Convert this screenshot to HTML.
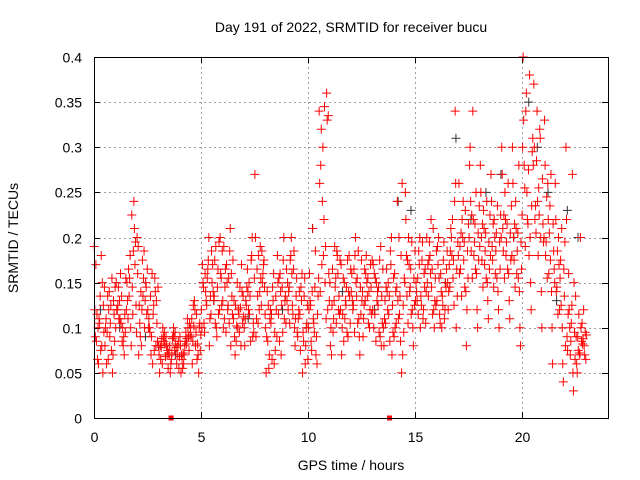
<!DOCTYPE html>
<html><head><meta charset="utf-8"><style>
body{margin:0;background:#fff}
svg{display:block;font-family:"Liberation Sans",sans-serif}
</style></head><body>
<svg id="chart" width="640" height="480" viewBox="0 0 640 480" xmlns="http://www.w3.org/2000/svg">
<text x="351" y="32" font-size="14" text-anchor="middle">Day 191 of 2022, SRMTID for receiver bucu</text>
<text transform="translate(18,238) rotate(-90)" font-size="14" text-anchor="middle">SRMTID / TECUs</text>
<text x="351" y="470" font-size="14" text-anchor="middle">GPS time / hours</text>
<g id="grid"></g>
<g id="ticks"></g>
<g id="marks"></g>
<rect x="94.5" y="57.5" width="514" height="361" fill="none" stroke="#000" stroke-width="1"/>
</svg>
<script>
const xTicks=[0,5,10,15,20];
const yTicks=[0,0.05,0.1,0.15,0.2,0.25,0.3,0.35,0.4];
const yTickLabels=["0","0.05","0.1","0.15","0.2","0.25","0.3","0.35","0.4"];
const binStart=0, binWidth=0.5;
const redBins=[
[0.19,0.1,0.08,0.12,0.06,0.15,0.09,0.11,0.05,0.17,0.105,0.125,0.085,0.135,0.095,0.115,0.075,0.145,0.065,0.18],
[0.08,0.12,0.05,0.1,0.14,0.07,0.11,0.09,0.13,0.06,0.105,0.115,0.095,0.125,0.085,0.135,0.075,0.145,0.065,0.155],
[0.1,0.13,0.08,0.15,0.11,0.09,0.12,0.16,0.07,0.12,0.105,0.115,0.125,0.135,0.095,0.145,0.085,0.155,0.11,0.1],
[0.12,0.18,0.24,0.15,0.1,0.21,0.13,0.08,0.17,0.11,0.225,0.195,0.165,0.145,0.125,0.135,0.115,0.095,0.155,0.185],
[0.2,0.14,0.1,0.16,0.08,0.13,0.19,0.12,0.15,0.07,0.175,0.145,0.125,0.135,0.115,0.105,0.155,0.165,0.09,0.185],
[0.12,0.09,0.14,0.1,0.16,0.08,0.11,0.06,0.13,0.1,0.115,0.105,0.095,0.125,0.085,0.135,0.075,0.145,0.07,0.155],
[0.08,0.06,0.09,0.07,0.1,0.08,0.05,0.09,0.07,0.08,0.085,0.075,0.065,0.095,0.055,0.078,0.082,0.072,0.088,0.068],
[0.07,0.09,0.06,0.08,0.1,0.07,0.05,0.09,0.08,0.06,0.075,0.085,0.065,0.095,0.055,0.072,0.082,0.068,0.088,0.078],
[0.09,0.06,0.11,0.08,0.07,0.1,0.05,0.08,0.09,0.07,0.085,0.075,0.065,0.095,0.105,0.055,0.082,0.092,0.072,0.088],
[0.1,0.13,0.07,0.09,0.12,0.05,0.11,0.08,0.1,0.06,0.095,0.105,0.085,0.115,0.075,0.125,0.065,0.092,0.102,0.082],
[0.12,0.16,0.2,0.1,0.14,0.08,0.17,0.13,0.11,0.15,0.125,0.135,0.145,0.155,0.115,0.105,0.165,0.185,0.095,0.175],
[0.15,0.19,0.12,0.17,0.1,0.2,0.14,0.09,0.16,0.13,0.145,0.155,0.135,0.165,0.125,0.175,0.115,0.185,0.105,0.195],
[0.13,0.17,0.21,0.1,0.15,0.08,0.19,0.12,0.16,0.11,0.125,0.135,0.145,0.155,0.115,0.165,0.105,0.175,0.095,0.185],
[0.11,0.15,0.08,0.13,0.1,0.17,0.09,0.12,0.14,0.07,0.115,0.105,0.125,0.095,0.135,0.085,0.145,0.112,0.102,0.122],
[0.1,0.14,0.18,0.08,0.12,0.2,0.11,0.15,0.09,0.13,0.115,0.105,0.125,0.135,0.095,0.145,0.085,0.155,0.165,0.175],
[0.27,0.18,0.15,0.2,0.12,0.16,0.09,0.14,0.17,0.11,0.19,0.175,0.165,0.155,0.145,0.135,0.125,0.115,0.105,0.185],
[0.1,0.07,0.13,0.05,0.11,0.16,0.09,0.12,0.06,0.14,0.105,0.095,0.085,0.115,0.075,0.125,0.065,0.135,0.055,0.145],
[0.12,0.16,0.2,0.09,0.14,0.11,0.18,0.07,0.13,0.15,0.125,0.135,0.115,0.145,0.105,0.155,0.095,0.165,0.085,0.175],
[0.13,0.18,0.1,0.15,0.2,0.08,0.12,0.16,0.11,0.14,0.125,0.135,0.145,0.115,0.155,0.105,0.165,0.095,0.175,0.185],
[0.09,0.13,0.06,0.11,0.16,0.08,0.12,0.05,0.1,0.14,0.095,0.105,0.115,0.085,0.125,0.075,0.135,0.065,0.145,0.155],
[0.1,0.14,0.07,0.12,0.21,0.09,0.16,0.11,0.06,0.13,0.105,0.115,0.125,0.095,0.135,0.085,0.145,0.155,0.075,0.185],
[0.34,0.3,0.36,0.26,0.18,0.33,0.14,0.22,0.12,0.28,0.345,0.335,0.32,0.15,0.16,0.17,0.19,0.13,0.24,0.11],
[0.15,0.11,0.18,0.08,0.13,0.16,0.1,0.19,0.12,0.07,0.145,0.135,0.125,0.155,0.115,0.165,0.105,0.175,0.095,0.185],
[0.12,0.15,0.09,0.17,0.11,0.14,0.07,0.13,0.18,0.1,0.125,0.135,0.115,0.145,0.105,0.155,0.095,0.165,0.085,0.175],
[0.14,0.18,0.11,0.16,0.2,0.09,0.13,0.15,0.07,0.12,0.135,0.145,0.125,0.155,0.115,0.165,0.105,0.175,0.095,0.185],
[0.13,0.16,0.1,0.14,0.18,0.12,0.09,0.15,0.17,0.11,0.135,0.145,0.125,0.155,0.115,0.165,0.105,0.175,0.13,0.14],
[0.12,0.15,0.09,0.17,0.13,0.19,0.1,0.14,0.08,0.16,0.125,0.135,0.115,0.145,0.105,0.155,0.095,0.165,0.085,0.175],
[0.1,0.14,0.17,0.08,0.12,0.2,0.11,0.15,0.07,0.13,0.115,0.125,0.105,0.135,0.095,0.145,0.085,0.155,0.165,0.185],
[0.09,0.13,0.05,0.16,0.11,0.26,0.1,0.2,0.07,0.14,0.115,0.125,0.105,0.135,0.095,0.145,0.085,0.155,0.24,0.18],
[0.15,0.2,0.12,0.25,0.17,0.1,0.22,0.14,0.08,0.18,0.145,0.155,0.135,0.165,0.125,0.175,0.115,0.185,0.105,0.195],
[0.13,0.17,0.11,0.15,0.2,0.12,0.14,0.1,0.16,0.13,0.135,0.145,0.155,0.125,0.165,0.115,0.175,0.105,0.185,0.195],
[0.14,0.18,0.12,0.2,0.16,0.1,0.15,0.22,0.13,0.17,0.145,0.155,0.135,0.165,0.125,0.175,0.115,0.185,0.195,0.21],
[0.13,0.16,0.11,0.19,0.14,0.12,0.17,0.1,0.15,0.2,0.135,0.145,0.155,0.125,0.165,0.115,0.175,0.185,0.105,0.195],
[0.15,0.2,0.34,0.12,0.18,0.26,0.14,0.22,0.1,0.17,0.155,0.165,0.145,0.175,0.135,0.185,0.125,0.195,0.21,0.24],
[0.18,0.22,0.14,0.26,0.2,0.08,0.16,0.24,0.12,0.19,0.175,0.185,0.165,0.195,0.155,0.205,0.145,0.215,0.135,0.23],
[0.2,0.34,0.16,0.28,0.22,0.12,0.3,0.18,0.1,0.24,0.195,0.205,0.185,0.215,0.175,0.225,0.165,0.235,0.155,0.25],
[0.19,0.23,0.15,0.28,0.21,0.13,0.25,0.17,0.11,0.2,0.185,0.195,0.175,0.205,0.165,0.215,0.155,0.225,0.145,0.24],
[0.18,0.22,0.14,0.27,0.2,0.12,0.24,0.16,0.1,0.19,0.185,0.195,0.175,0.205,0.165,0.215,0.155,0.225,0.145,0.235],
[0.2,0.25,0.16,0.3,0.22,0.13,0.27,0.18,0.11,0.21,0.195,0.205,0.185,0.215,0.175,0.225,0.165,0.235,0.155,0.26],
[0.18,0.24,0.14,0.3,0.21,0.1,0.26,0.16,0.08,0.2,0.185,0.195,0.175,0.205,0.165,0.215,0.155,0.225,0.145,0.28],
[0.3,0.36,0.2,0.4,0.25,0.15,0.33,0.22,0.12,0.28,0.215,0.235,0.255,0.275,0.295,0.19,0.18,0.31,0.34,0.38],
[0.28,0.34,0.2,0.37,0.24,0.14,0.3,0.18,0.1,0.22,0.255,0.265,0.235,0.225,0.215,0.205,0.32,0.195,0.285,0.31],
[0.2,0.26,0.14,0.33,0.22,0.1,0.28,0.16,0.06,0.18,0.205,0.215,0.195,0.235,0.185,0.245,0.175,0.165,0.155,0.27],
[0.15,0.2,0.1,0.26,0.17,0.06,0.22,0.12,0.04,0.14,0.155,0.165,0.145,0.175,0.135,0.185,0.125,0.195,0.115,0.21],
[0.08,0.12,0.05,0.3,0.1,0.03,0.22,0.07,0.15,0.09,0.085,0.095,0.075,0.105,0.065,0.115,0.125,0.135,0.16,0.27],
[0.09,0.07,0.12,0.06,0.2,0.08,0.05,0.1,0.07,0.09,0.085,0.095,0.075,0.105,0.065,0.115,0.082,0.092,0.072,0.088]
];
const blackTimes=[0.3,1.2,2.4,3.8,5.6,7.2,8.8,10.2,11.6,13.1,14.2,14.8,16.4,16.9,17.6,18.3,19.0,19.6,20.3,20.7,21.2,21.6,22.1,22.6];
const blackValues=[0.12,0.1,0.09,0.07,0.13,0.11,0.12,0.21,0.14,0.12,0.24,0.23,0.15,0.31,0.22,0.25,0.27,0.2,0.35,0.3,0.25,0.13,0.23,0.2];
const gapTimes=[3.6,13.8];

const NS="http://www.w3.org/2000/svg";
const L=94,R=608,T=57,B=418,XMAX=24,YMAX=0.4;
function xs(v){return L+(v/XMAX)*(R-L);}
function ys(v){return B-(v/YMAX)*(B-T);}
function mk(tag,a,parent){const e=document.createElementNS(NS,tag);for(const k in a)e.setAttribute(k,a[k]);parent.appendChild(e);return e;}
const grid=document.getElementById('grid'),ticks=document.getElementById('ticks'),marks=document.getElementById('marks');
xTicks.forEach(t=>{
  const x=Math.round(xs(t))+0.5;
  if(t>0){const g=mk('line',{x1:x,x2:x,y1:T,y2:B,stroke:'#a0a0a0','stroke-dasharray':'2,3'},grid);
  
  }
  const tk=mk('path',{d:`M${x} ${B}v-6M${x} ${T}v6`,stroke:'#000'},ticks);
  
  
  const lb=mk('text',{x:x,y:B+24,'font-size':14,'text-anchor':'middle'},ticks);lb.textContent=t;
  
  
});
yTicks.forEach((t,i)=>{
  const y=Math.round(ys(t))+0.5;
  if(t>0&&t<YMAX){const g=mk('line',{x1:L,x2:R,y1:y,y2:y,stroke:'#a0a0a0','stroke-dasharray':'2,3'},grid);
  
  }
  const tk=mk('path',{d:`M${L} ${y}h6M${R} ${y}h-6`,stroke:'#000'},ticks);
  
  
  const lb=mk('text',{x:L-12,y:y+5,'font-size':14,'text-anchor':'end'},ticks);lb.textContent=yTickLabels[i];
  
  
});
function plus(x,y,col){return mk('path',{d:`M${x-4.5} ${y}h9M${x} ${y-4.5}v9`,stroke:col,'stroke-width':1},marks);}
blackTimes.forEach((t,i)=>{
  const p=plus(xs(t),ys(blackValues[i]),'#333');
  
  
});
redBins.forEach((bin,b)=>{
  bin.forEach((v,i)=>{
    const t=binStart+b*binWidth+((i*7)%bin.length+0.5)/bin.length*binWidth;
    const p=plus(xs(t),ys(v),'#ff0000');
    
    
  });
});
gapTimes.forEach(t=>{
  const r=mk('rect',{x:xs(t)-2.5,y:B-2.5,width:5,height:5,fill:'#ff0000'},marks);
  
  
});
</script>
</body></html>
